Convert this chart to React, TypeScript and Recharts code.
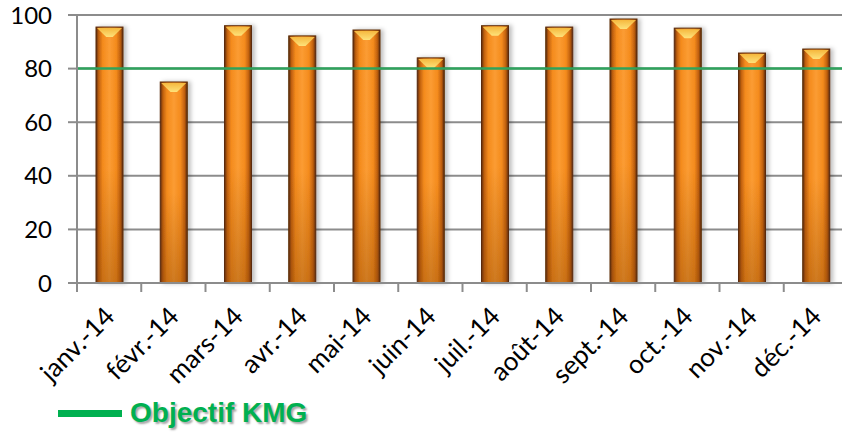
import React from "react";
import { BarChart, Bar, XAxis, YAxis, CartesianGrid, ReferenceLine } from "recharts";

const months = ["janv.-14", "févr.-14", "mars-14", "avr.-14", "mai-14", "juin-14", "juil.-14", "août-14", "sept.-14", "oct.-14", "nov.-14", "déc.-14"];
const kmgValues = [95.5, 75, 96, 92.2, 94.4, 84, 96, 95.5, 98.5, 95.1, 85.8, 87.3];
const objectif = 80;
const objectifLabel = "Objectif KMG";
const yTicks = [0, 20, 40, 60, 80, 100];

const data = months.map((m, i) => ({ month: m, kmg: kmgValues[i] }));

const axisGray = "#8c8c8c";

const BevelBar = (props: any) => {
  const { x, y, width, height } = props;
  if (!height || height <= 0) return null;
  const bevel = Math.min(10, height);
  return (
    <g filter="url(#barShadow)">
      <rect x={x} y={y} width={width} height={height} fill="url(#barBody)" />
      <rect x={x} y={y} width={width} height={height} fill="url(#barDark)" />
      <rect x={x} y={y} width={width} height={height} fill="none" stroke="#5a2a08" strokeWidth={1} />
      <polygon
        points={`${x + 1},${y + 1} ${x + width - 1},${y + 1} ${x + width * 0.62},${y + bevel} ${x + width * 0.38},${y + bevel}`}
        fill="url(#barTop)"
      />
    </g>
  );
};

const MonthTick = (props: any) => {
  const { x, y, payload } = props;
  const half = payload && payload.offset ? payload.offset : 32;
  const ax = x + 7;
  const ay = y + 35;
  return (
    <g>
      <line x1={x - half} y1={y} x2={x - half} y2={y + 9} stroke={axisGray} strokeWidth={2} />
      <text
        x={ax}
        y={ay}
        textAnchor="end"
        transform={`rotate(-45, ${ax}, ${ay})`}
        fontFamily="Lato, sans-serif"
        fontSize={26}
        fill="#000"
      >
        {payload.value}
      </text>
    </g>
  );
};

export default function App() {
  return (
    <div style={{ position: "absolute", left: 0, top: 0, width: 842, height: 432, overflow: "hidden", background: "#fff" }}>
      <BarChart width={848} height={432} data={data} margin={{ top: 15, right: 0, bottom: 0, left: 0 }} barSize={27}>
        <defs>
          <linearGradient id="barBody" x1="0" y1="0" x2="1" y2="0">
            <stop offset="0" stopColor="#5a2a08" />
            <stop offset="0.1" stopColor="#c0600f" />
            <stop offset="0.25" stopColor="#f48b1d" />
            <stop offset="0.5" stopColor="#fb9c33" />
            <stop offset="0.75" stopColor="#f48b1d" />
            <stop offset="0.9" stopColor="#c0600f" />
            <stop offset="1" stopColor="#5a2a08" />
          </linearGradient>
          <linearGradient id="barDark" x1="0" y1="0" x2="0" y2="1">
            <stop offset="0" stopColor="#7a3a00" stopOpacity={0} />
            <stop offset="0.55" stopColor="#7a3a00" stopOpacity={0} />
            <stop offset="1" stopColor="#7a3a00" stopOpacity={0.35} />
          </linearGradient>
          <linearGradient id="barTop" x1="0" y1="0" x2="0" y2="1">
            <stop offset="0" stopColor="#f6b83e" />
            <stop offset="1" stopColor="#fde27a" />
          </linearGradient>
          <filter id="barShadow" x="-30%" y="-10%" width="160%" height="120%">
            <feDropShadow dx={3} dy={0} stdDeviation={2} floodColor="#000" floodOpacity={0.25} />
          </filter>
        </defs>
        <CartesianGrid horizontal vertical={false} stroke={axisGray} strokeWidth={2} />
        <YAxis
          domain={[0, 100]}
          ticks={yTicks}
          width={77}
          axisLine={{ stroke: axisGray, strokeWidth: 2 }}
          tickLine={{ stroke: axisGray, strokeWidth: 2 }}
          tickSize={9}
          tickMargin={16}
          tick={{ fontFamily: "Lato, sans-serif", fontSize: 24, fill: "#000" }}
        />
        <XAxis
          dataKey="month"
          height={149}
          axisLine={{ stroke: axisGray, strokeWidth: 2 }}
          tickLine={false}
          tickSize={0}
          tickMargin={0}
          interval={0}
          tick={<MonthTick />}
        />
        <Bar dataKey="kmg" isAnimationActive={false} shape={<BevelBar />} />
        <ReferenceLine y={objectif} stroke="#2ea35c" strokeWidth={2.5} ifOverflow="extendDomain" />
      </BarChart>
      <div style={{ position: "absolute", left: 58, top: 396, display: "flex", alignItems: "center" }}>
        <div style={{ width: 64, height: 7, background: "#00b050" }} />
        <span
          style={{
            marginLeft: 8,
            fontFamily: "'Liberation Sans', Arial, sans-serif",
            fontWeight: "bold",
            fontSize: 28,
            color: "#00b050",
            textShadow: "2px 2px 2px rgba(0,0,0,0.35)",
            lineHeight: "34px",
          }}
        >
          {objectifLabel}
        </span>
      </div>
    </div>
  );
}
